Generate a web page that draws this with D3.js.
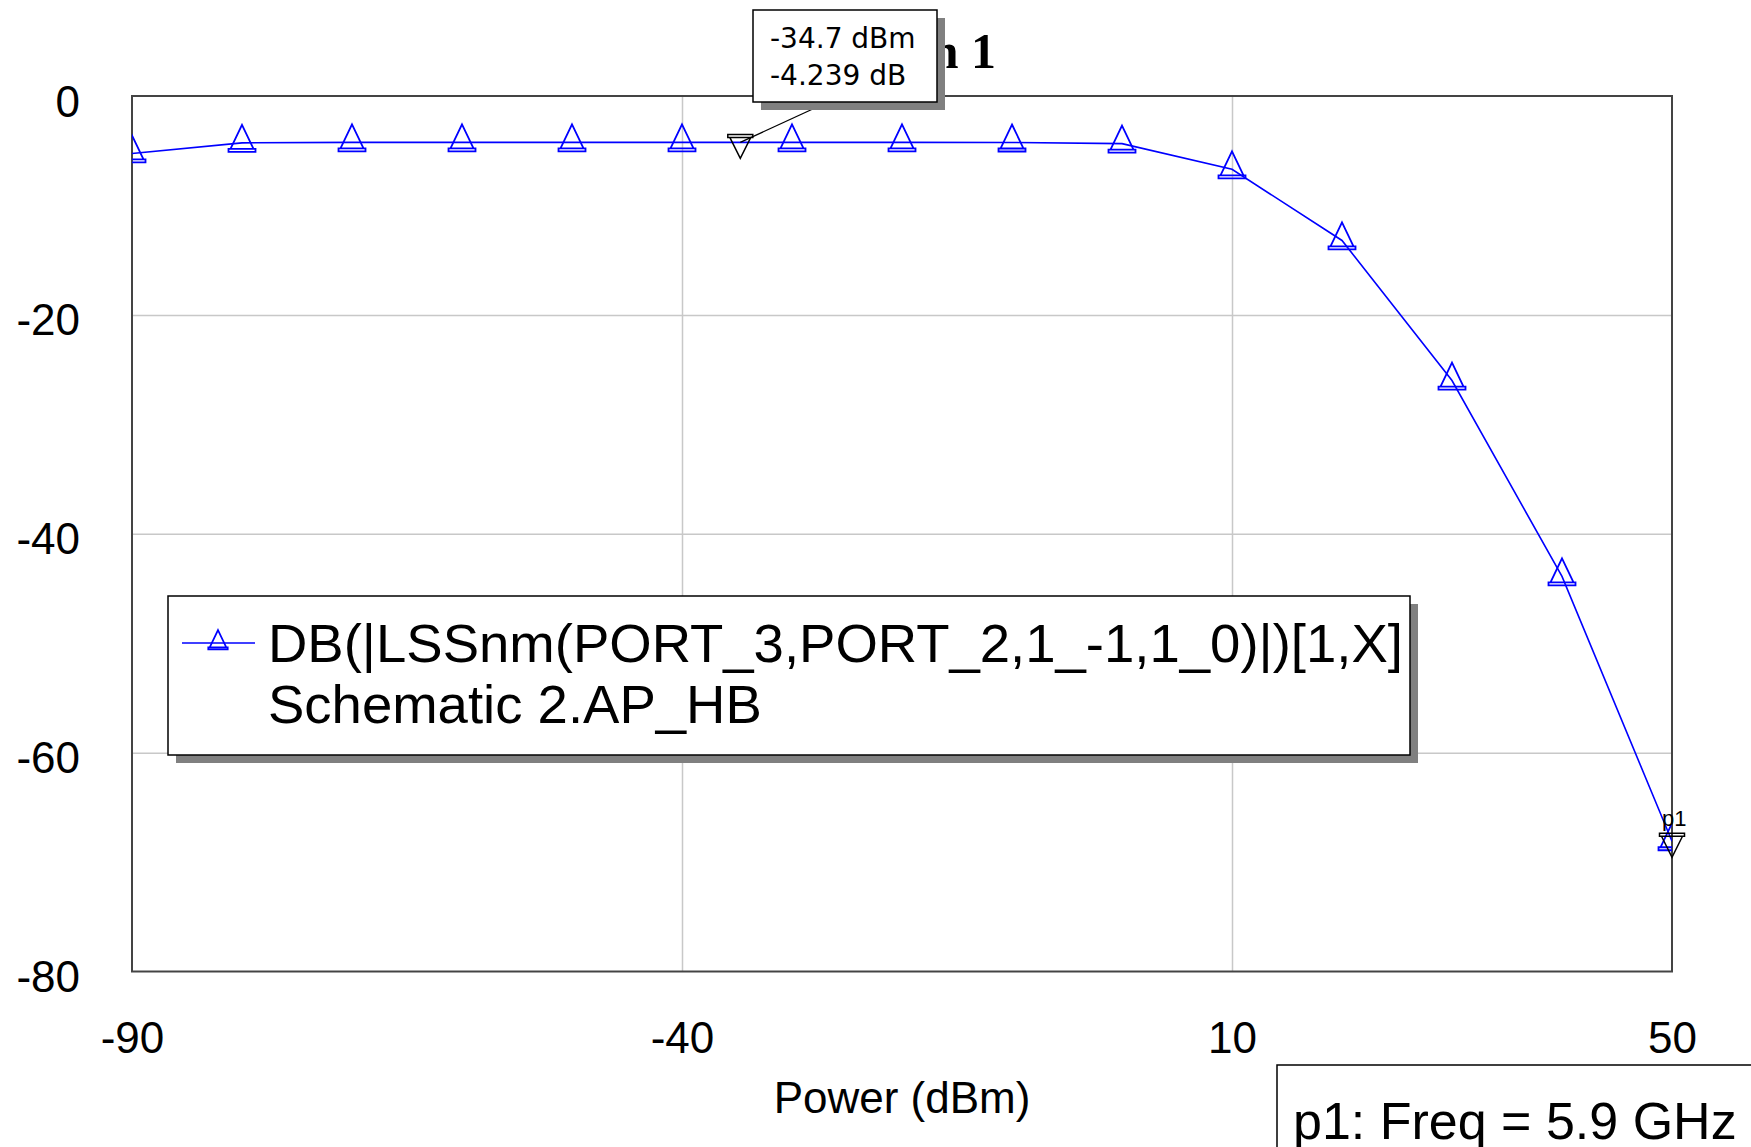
<!DOCTYPE html>
<html>
<head>
<meta charset="utf-8">
<script src="https://cdn.jsdelivr.net/npm/d3@7"></script>
<style>
  body { margin: 0; background: #fff; }
  svg { display: block; }
</style>
</head>
<body>
<div id="chart"></div>
<script>
// Loss vs input power, swept HB result

const powerDbm = [-90, -80, -70, -60, -50, -40, -30, -20, -10, 0, 10, 20, 30, 40, 50];
const lossDb = [-5.25, -4.28, -4.24, -4.24, -4.24, -4.24, -4.24, -4.24, -4.25, -4.35, -6.7, -13.2, -26.0, -43.9, -68.1];

const xTicks = [-90, -40, 10, 50];
const yTicks = [0, -20, -40, -60, -80];
const xGrid = [-40, 10];
const yGrid = [-20, -40, -60];

const markerX = [-34.7, 50];
const markerY = [-4.239, -68.1];
const markerText = ["-34.7 dBm", "-4.239 dB"];

const legendLines = ["DB(|LSSnm(PORT_3,PORT_2,1_-1,1_0)|)[1,X]", "Schematic 2.AP_HB"];
const titleText = "Graph 1";
const xTitle = "Power (dBm)";
const noteText = "p1: Freq = 5.9 GHz";

const W = 1751, H = 1147;
const plot = { left: 132, right: 1672, top: 96, bottom: 971.5 };
const blue = "#0000ff";
const sans = "'Liberation Sans', Arial, sans-serif";
const tickFmt = d => String(d); // plain hyphen minus, like the original

const svg = d3.select("#chart").append("svg")
  .attr("width", W).attr("height", H)
  .attr("viewBox", `0 0 ${W} ${H}`);

const x = d3.scaleLinear().domain([-90, 50]).range([plot.left, plot.right]);
const y = d3.scaleLinear().domain([-80, 0]).range([plot.bottom, plot.top]);

// title (partly hidden by the marker box, as in the original)
svg.append("text")
  .attr("x", 996).attr("y", 68)
  .attr("text-anchor", "end")
  .attr("font-family", "'Liberation Serif', 'Times New Roman', serif")
  .attr("font-weight", "bold")
  .attr("font-size", 50)
  .text(titleText);

// gridlines
svg.append("g")
  .attr("transform", `translate(0,${plot.bottom})`)
  .call(d3.axisBottom(x).tickValues(xGrid).tickSize(-(plot.bottom - plot.top)).tickFormat(""))
  .call(g => g.select(".domain").remove())
  .call(g => g.selectAll("line").attr("stroke", "#c8c8c8").attr("stroke-width", 1.5));

svg.append("g")
  .attr("transform", `translate(${plot.left},0)`)
  .call(d3.axisLeft(y).tickValues(yGrid).tickSize(-(plot.right - plot.left)).tickFormat(""))
  .call(g => g.select(".domain").remove())
  .call(g => g.selectAll("line").attr("stroke", "#c8c8c8").attr("stroke-width", 1.5));

// axis labels
svg.append("g")
  .attr("transform", `translate(${plot.left},0)`)
  .call(d3.axisLeft(y).tickValues(yTicks).tickSize(0).tickPadding(52).tickFormat(tickFmt))
  .call(g => g.select(".domain").remove())
  .call(g => g.selectAll("text")
    .attr("font-family", sans).attr("font-size", 44).attr("fill", "#000")
    .attr("dy", "0.455em"));

svg.append("g")
  .attr("transform", `translate(0,${plot.bottom})`)
  .call(d3.axisBottom(x).tickValues(xTicks).tickSize(0).tickFormat(tickFmt))
  .call(g => g.select(".domain").remove())
  .call(g => g.selectAll("text")
    .attr("font-family", sans).attr("font-size", 44).attr("fill", "#000")
    .attr("y", 81.5).attr("dy", 0));

svg.append("text")
  .attr("x", (plot.left + plot.right) / 2).attr("y", 1113)
  .attr("text-anchor", "middle")
  .attr("font-family", sans).attr("font-size", 44)
  .text(xTitle);

// plot frame
svg.append("rect")
  .attr("x", plot.left).attr("y", plot.top)
  .attr("width", plot.right - plot.left).attr("height", plot.bottom - plot.top)
  .attr("fill", "none").attr("stroke", "#444").attr("stroke-width", 2);

svg.append("clipPath").attr("id", "plotClip")
  .append("rect")
  .attr("x", plot.left).attr("y", plot.top)
  .attr("width", plot.right - plot.left).attr("height", plot.bottom - plot.top);

const data = powerDbm.map((p, i) => ({ p, v: lossDb[i] }));
const inner = svg.append("g").attr("clip-path", "url(#plotClip)");

inner.append("path")
  .datum(data)
  .attr("fill", "none")
  .attr("stroke", blue)
  .attr("stroke-width", 1.6)
  .attr("d", d3.line().x(d => x(d.p)).y(d => y(d.v)));

const triPath = "M0,-18L11.5,6L-11.5,6Z M-13.5,6H13.5V9H-13.5Z";

inner.selectAll(".tri")
  .data(data)
  .join("path")
  .attr("class", "tri")
  .attr("transform", d => `translate(${x(d.p)},${y(d.v)})`)
  .attr("d", triPath)
  .attr("fill", "none")
  .attr("stroke", blue)
  .attr("stroke-width", 1.8);

// markers (inverted black triangles)
const markers = markerX.map((m, i) => ({ p: m, v: markerY[i] }));
const invPath = "M-12.5,-8H12.5V-5H-12.5Z M-10.5,-5L0,16L10.5,-5";

// leader line from first marker to its readout box
const box = { x: 753, y: 10, w: 184, h: 92 };
svg.append("line")
  .attr("x1", x(markers[0].p)).attr("y1", y(markers[0].v))
  .attr("x2", 828).attr("y2", box.y + box.h)
  .attr("stroke", "#000").attr("stroke-width", 1.3);

svg.selectAll(".inv")
  .data(markers)
  .join("path")
  .attr("class", "inv")
  .attr("transform", d => `translate(${x(d.p)},${y(d.v)})`)
  .attr("d", invPath)
  .attr("fill", "none")
  .attr("stroke", "#000")
  .attr("stroke-width", 1.5);

svg.append("text")
  .attr("x", x(markers[1].p) - 10).attr("y", y(markers[1].v) - 15)
  .attr("font-family", sans).attr("font-size", 22)
  .text("p1");

// readout box
svg.append("rect")
  .attr("x", box.x + 8).attr("y", box.y + 8)
  .attr("width", box.w).attr("height", box.h)
  .attr("fill", "#808080");
svg.append("rect")
  .attr("x", box.x).attr("y", box.y)
  .attr("width", box.w).attr("height", box.h)
  .attr("fill", "#fff").attr("stroke", "#000").attr("stroke-width", 1.5);
svg.selectAll(".readout")
  .data(markerText)
  .join("text")
  .attr("class", "readout")
  .attr("x", 770)
  .attr("y", (d, i) => 48 + i * 37)
  .attr("font-family", "'DejaVu Sans', Verdana, sans-serif")
  .attr("font-size", 28)
  .text(d => d);

// legend
const leg = { x: 168, y: 596, w: 1242, h: 159 };
svg.append("rect")
  .attr("x", leg.x + 8).attr("y", leg.y + 8)
  .attr("width", leg.w).attr("height", leg.h)
  .attr("fill", "#808080");
svg.append("rect")
  .attr("x", leg.x).attr("y", leg.y)
  .attr("width", leg.w).attr("height", leg.h)
  .attr("fill", "#fff").attr("stroke", "#000").attr("stroke-width", 1.5);
svg.append("line")
  .attr("x1", 182).attr("x2", 255).attr("y1", 643).attr("y2", 643)
  .attr("stroke", blue).attr("stroke-width", 1.6);
svg.append("path")
  .attr("transform", "translate(218,643) scale(0.72)")
  .attr("d", triPath)
  .attr("fill", "none").attr("stroke", blue).attr("stroke-width", 2.4);
svg.selectAll(".legtext")
  .data(legendLines)
  .join("text")
  .attr("class", "legtext")
  .attr("x", 268)
  .attr("y", (d, i) => 662 + i * 61)
  .attr("font-family", sans).attr("font-size", 54.5)
  .text(d => d);

// frequency note, bottom right (runs off the page)
svg.append("rect")
  .attr("x", 1277).attr("y", 1065)
  .attr("width", 600).attr("height", 200)
  .attr("fill", "#fff").attr("stroke", "#000").attr("stroke-width", 1.5);
svg.append("text")
  .attr("x", 1293).attr("y", 1139)
  .attr("font-family", sans).attr("font-size", 52)
  .text(noteText);
</script>
</body>
</html>
